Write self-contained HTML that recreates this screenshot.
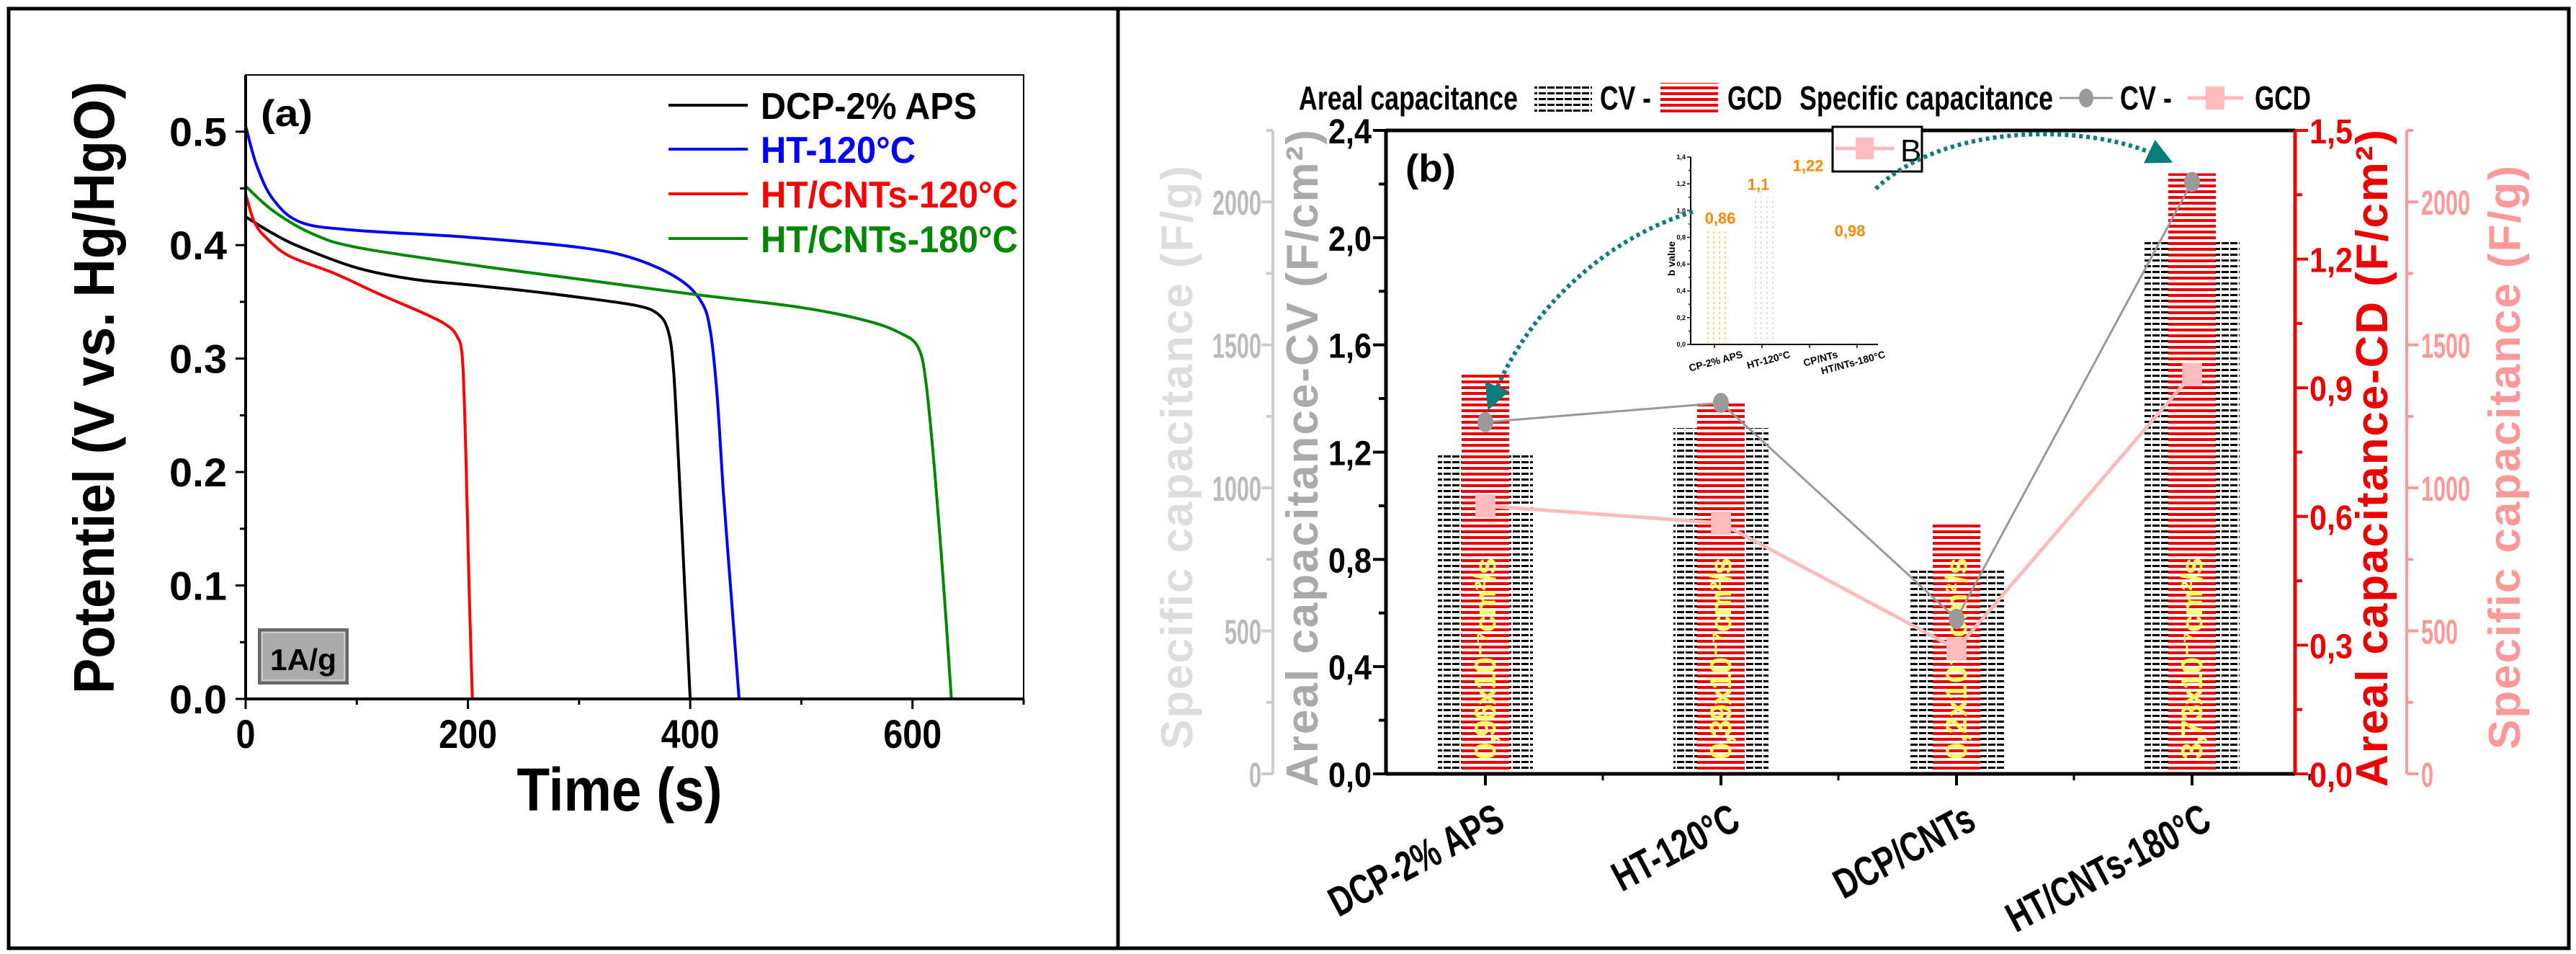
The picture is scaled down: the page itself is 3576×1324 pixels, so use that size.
<!DOCTYPE html>
<html><head><meta charset="utf-8"><style>
html,body{margin:0;padding:0;background:#fff}
svg{display:block}
text{font-family:"Liberation Sans Narrow","Liberation Sans",sans-serif;font-weight:bold}
</style></head><body>
<svg id="fig" width="3576" height="1324" viewBox="0 0 3576 1324" xmlns="http://www.w3.org/2000/svg">
<defs>
<pattern id="hatchK" width="12" height="8" patternUnits="userSpaceOnUse"><rect x="0" y="0" width="10" height="3" fill="#000"/></pattern>
<pattern id="hatchR" width="8" height="8" patternUnits="userSpaceOnUse"><rect x="0" y="0" width="8" height="4" fill="#e00"/></pattern>
<marker id="arr" viewBox="0 0 10 10" refX="5" refY="5" markerWidth="6" markerHeight="6" orient="auto"><path d="M0,0L10,5L0,10z" fill="#0a7c7c"/></marker>
</defs>
<rect x="12" y="12" width="3554" height="1304" fill="none" stroke="#000" stroke-width="5"/>
<line x1="1552" y1="12" x2="1552" y2="1316" stroke="#000" stroke-width="5"/>
<g id="A"></g>
<g id="B"></g>
</svg>
<script>
// ---------- Panel (a) data ----------
const seriesNames=["DCP-2% APS","HT-120°C","HT/CNTs-120°C","HT/CNTs-180°C"];
const seriesColors=["#000","#00f","#f00","#080"];
const tBlack=[0,25,50,100,150,200,250,300,350,370,380,385,390,395,400];
const vBlack=[0.425,0.41,0.398,0.38,0.37,0.365,0.36,0.354,0.347,0.34,0.325,0.29,0.20,0.10,0.0];
const tBlue=[0,10,25,50,100,200,300,350,390,410,418,424,430,437,444];
const vBlue=[0.505,0.47,0.44,0.42,0.413,0.407,0.398,0.388,0.37,0.35,0.325,0.27,0.18,0.09,0.0];
const tRed=[0,8,20,40,80,120,160,180,190,195,198,201,204];
const vRed=[0.445,0.42,0.405,0.39,0.375,0.357,0.34,0.33,0.32,0.30,0.22,0.10,0.0];
const tGreen=[0,25,60,100,200,300,400,500,560,590,605,612,620,628,635];
const vGreen=[0.452,0.43,0.41,0.398,0.383,0.37,0.357,0.345,0.333,0.322,0.31,0.28,0.20,0.10,0.0];
const xTicksA=[0,200,400,600];
const yTicksA=["0.0","0.1","0.2","0.3","0.4","0.5"];
// ---------- Panel (b) data ----------
const cats=["DCP-2% APS","HT-120°C","DCP/CNTs","HT/CNTs-180°C"];
const cvAreal=[1.19,1.29,0.77,1.99];
const gcdAreal=[0.933,0.868,0.585,1.40];
const cvSpecific=[1230,1297,542,2070];
const gcdSpecific=[937,877,437,1397];
const diffLabels=["0,96x10⁻⁷cm²/s","0,39x10⁻⁷cm²/s","0,2x10⁻⁷cm²/s","3,73x10⁻⁷cm²/s"];
const leftTicks=["0,0","0,4","0,8","1,2","1,6","2,0","2,4"];
const redTicks=["0,0","0,3","0,6","0,9","1,2","1,5"];
const specTicks=[0,500,1000,1500,2000];
const bValues=[0.86,1.1,1.22,0.98];
const bLabels=["0,86","1,1","1,22","0,98"];
const insetCats=["CP-2% APS","HT-120°C","CP/NTs","HT/NTs-180°C"];

const NS="http://www.w3.org/2000/svg";
function mk(tag,attrs,parent,txt){const e=document.createElementNS(NS,tag);for(const k in attrs)e.setAttribute(k,attrs[k]);if(txt!==undefined)e.textContent=txt;parent.appendChild(e);return e;}
function smooth(pts){let d='M'+pts[0][0].toFixed(1)+','+pts[0][1].toFixed(1);for(let i=0;i<pts.length-1;i++){const p0=pts[Math.max(0,i-1)],p1=pts[i],p2=pts[i+1],p3=pts[Math.min(pts.length-1,i+2)];const c1=[p1[0]+(p2[0]-p0[0])/6,p1[1]+(p2[1]-p0[1])/6],c2=[p2[0]-(p3[0]-p1[0])/6,p2[1]-(p3[1]-p1[1])/6];d+=` C${c1[0].toFixed(1)},${c1[1].toFixed(1)} ${c2[0].toFixed(1)},${c2[1].toFixed(1)} ${p2[0].toFixed(1)},${p2[1].toFixed(1)}`;}return d;}

// ===== Panel A =====
const A=document.getElementById('A');
const ax0=341,ax1=1421,ay0=970,ay1=104;
const xA=t=>ax0+t/700*(ax1-ax0);
const yA=v=>ay0-v/0.55*(ay0-ay1);
let r=mk('rect',{x:ax0,y:ay1,width:ax1-ax0,height:ay0-ay1,fill:'none',stroke:'#000','stroke-width':2},A);


const tsA=[tBlack,tBlue,tRed,tGreen],vsA=[vBlack,vBlue,vRed,vGreen];
tsA.forEach((ts,i)=>{
  const pts=ts.map((t,j)=>[xA(t),yA(vsA[i][j])]);
  const p=mk('path',{d:smooth(pts),fill:'none',stroke:seriesColors[i],'stroke-width':4,'stroke-linejoin':'round'},A);
  
  
});
mk('line',{x1:ax0,y1:ay0,x2:ax1,y2:ay0,stroke:'#000','stroke-width':4},A);
mk('line',{x1:ax0,y1:ay0,x2:ax0,y2:ay1,stroke:'#000','stroke-width':4},A);
for(let t=0;t<=700;t+=100){mk('line',{x1:xA(t),y1:ay0,x2:xA(t),y2:ay0+(t%200?8:14),stroke:'#000','stroke-width':3},A);}
xTicksA.forEach(t=>{const e=mk('text',{x:xA(t),y:ay0+68,'font-size':56,'text-anchor':'middle',textLength:String(t).length*27,lengthAdjust:'spacingAndGlyphs'},A,String(t));});
for(let k=0;k<=10;k++){const v=k*0.05;mk('line',{x1:ax0,y1:yA(v),x2:ax0-(k%2?8:14),y2:yA(v),stroke:'#000','stroke-width':3},A);}
yTicksA.forEach((s,i)=>{const e=mk('text',{x:ax0-26,y:yA(i*0.1)+20,'font-size':56,'text-anchor':'end',textLength:80,lengthAdjust:'spacingAndGlyphs'},A,s);});
let e=mk('text',{x:860,y:1125,'font-size':84,'text-anchor':'middle',textLength:285,lengthAdjust:'spacingAndGlyphs'},A,'Time (s)');

e=mk('text',{x:0,y:0,'font-size':80,'text-anchor':'middle',textLength:850,lengthAdjust:'spacingAndGlyphs',transform:'translate(158,538) rotate(-90)'},A,'Potentiel (V vs. Hg/HgO)');

e=mk('text',{x:362,y:175,'font-size':52,textLength:72,lengthAdjust:'spacingAndGlyphs'},A,'(a)');

const ly=[146,207,269,331];
const lw=[300,215,357,357];
seriesNames.forEach((n,i)=>{
  const g=mk('g',{},A);
  
  
  mk('line',{x1:928,y1:ly[i],x2:1038,y2:ly[i],stroke:seriesColors[i],'stroke-width':4},g);
  mk('text',{x:1056,y:ly[i]+19,'font-size':52,fill:seriesColors[i],textLength:lw[i],lengthAdjust:'spacingAndGlyphs'},g,n);
});
const ag=mk('g',{},A);


mk('rect',{x:360,y:874,width:122,height:74,fill:'#999',stroke:'#666','stroke-width':4},ag);
mk('rect',{x:364,y:878,width:114,height:66,fill:'#aaa',stroke:'#ccc','stroke-width':2},ag);
mk('text',{x:421,y:930,'font-size':42,'text-anchor':'middle',textLength:92,lengthAdjust:'spacingAndGlyphs'},ag,'1A/g');

// ===== Panel B =====
const B=document.getElementById('B');
const bx0=1924,bx1=3186,by0=1074,by1=181;
const cx=i=>2062+i*327;
const yCV=v=>by0-v/2.4*(by0-by1);
const yCD=v=>by0-v/1.5*(by0-by1);
const ySP=v=>by0-v/2250*(by0-by1);
cats.forEach((c,i)=>{
  const b=mk('rect',{x:cx(i)-66,y:yCV(cvAreal[i]),width:132,height:by0-yCV(cvAreal[i]),fill:'url(#hatchK)'},B);
  
  
  const rb=mk('rect',{x:cx(i)-33,y:yCD(gcdAreal[i]),width:66,height:by0-yCD(gcdAreal[i]),fill:'url(#hatchR)'},B);
  
  
  const t=mk('text',{x:0,y:0,'font-size':42,fill:'#ff6','text-anchor':'start',textLength:diffLabels[i].length>14?300:280,lengthAdjust:'spacing',transform:`translate(${cx(i)+14},${by0-20}) rotate(-90)`},B,diffLabels[i]);
  
  
});
let dcv=cvSpecific.map((v,i)=>(i?'L':'M')+cx(i)+','+ySP(v)).join(' ');
let l1=mk('path',{d:dcv,fill:'none',stroke:'#999','stroke-width':3},B);

let dgc=gcdSpecific.map((v,i)=>(i?'L':'M')+cx(i)+','+ySP(v)).join(' ');
let l2=mk('path',{d:dgc,fill:'none',stroke:'#fbb','stroke-width':5},B);

cvSpecific.forEach((v,i)=>{const c=mk('ellipse',{cx:cx(i),cy:ySP(v),rx:11,ry:14,fill:'#999'},B);});
gcdSpecific.forEach((v,i)=>{const c=mk('rect',{x:cx(i)-14,y:ySP(v)-16,width:28,height:32,fill:'#fbb'},B);});
mk('line',{x1:bx0,y1:by0,x2:bx1,y2:by0,stroke:'#000','stroke-width':5},B);
mk('line',{x1:bx0,y1:by0,x2:bx0,y2:by1,stroke:'#000','stroke-width':5},B);
mk('line',{x1:bx0,y1:by1,x2:bx1,y2:by1,stroke:'#000','stroke-width':5},B);
mk('line',{x1:bx1,y1:by0,x2:bx1,y2:by1,stroke:'#e00','stroke-width':5},B);
const pinkX=3341, grayX=1767;
mk('line',{x1:pinkX,y1:by0,x2:pinkX,y2:by1,stroke:'#f99','stroke-width':4},B);
mk('line',{x1:grayX,y1:by0,x2:grayX,y2:by1,stroke:'#ccc','stroke-width':4},B);
cats.forEach((c,i)=>{mk('line',{x1:cx(i),y1:by0,x2:cx(i),y2:by0+16,stroke:'#000','stroke-width':4},B);mk('line',{x1:cx(i)+163,y1:by0,x2:cx(i)+163,y2:by0+9,stroke:'#000','stroke-width':3},B);});
for(let k=0;k<=12;k++){const v=k*0.2;mk('line',{x1:bx0,y1:yCV(v),x2:bx0-(k%2?10:18),y2:yCV(v),stroke:'#000','stroke-width':4},B);}
leftTicks.forEach((s,i)=>{const t=mk('text',{x:bx0-20,y:yCV(i*0.4)+18,'font-size':48,'text-anchor':'end',textLength:60,lengthAdjust:'spacingAndGlyphs'},B,s);});
for(let k=0;k<=10;k++){const v=k*0.15;mk('line',{x1:bx1,y1:yCD(v),x2:bx1+(k%2?10:18),y2:yCD(v),stroke:'#e00','stroke-width':4},B);}
redTicks.forEach((s,i)=>{const t=mk('text',{x:bx1+20,y:yCD(i*0.3)+18,'font-size':48,fill:'#e00',textLength:60,lengthAdjust:'spacingAndGlyphs'},B,s);});
for(let k=0;k<=9;k++){const v=k*250;mk('line',{x1:pinkX,y1:ySP(v),x2:pinkX+(k%2?9:16),y2:ySP(v),stroke:'#f99','stroke-width':4},B);mk('line',{x1:grayX,y1:ySP(v),x2:grayX-(k%2?9:16),y2:ySP(v),stroke:'#ccc','stroke-width':4},B);}
specTicks.forEach(v=>{
  const L=String(v).length*17;
  let t=mk('text',{x:pinkX+20,y:ySP(v)+18,'font-size':48,fill:'#f99',textLength:L,lengthAdjust:'spacingAndGlyphs'},B,String(v));
  t=mk('text',{x:grayX-16,y:ySP(v)+18,'font-size':48,fill:'#bbb','text-anchor':'end',textLength:L,lengthAdjust:'spacingAndGlyphs'},B,String(v));
});
function vt(x,txt,col,name,y0,y1){const t=mk('text',{x:0,y:0,'font-size':62,fill:col,'textLength':y0-y1,'lengthAdjust':'spacing',transform:`translate(${x},${y0}) rotate(-90)`},B,txt);}
vt(1829,'Areal capacitance-CV (F/cm²)','#aaa','cv-axis-title',1092,180);
vt(1655,'Specific capacitance (F/g)','#ddd','specific-cv-axis-title',1040,230);
vt(3314,'Areal capacitance-CD (F/cm²)','#e00','cd-axis-title',1092,180);
vt(3498,'Specific capacitance (F/g)','#f99','specific-gcd-axis-title',1040,230);
const catW=[265,190,212,311];
cats.forEach((c,i)=>{const t=mk('text',{x:0,y:0,'font-size':58,'text-anchor':'end',textLength:catW[i],lengthAdjust:'spacingAndGlyphs',transform:`translate(${cx(i)+30},${by0+75}) rotate(-28)`},B,c);});
e=mk('text',{x:1951,y:252,'font-size':54,textLength:70,lengthAdjust:'spacingAndGlyphs'},B,'(b)');

const lg=mk('g',{},B);


function lt(x,s,w){mk('text',{x:x,y:152,'font-size':46,textLength:w,lengthAdjust:'spacingAndGlyphs'},lg,s);}
lt(1803,'Areal capacitance',304);
mk('rect',{x:2130,y:117,width:80,height:40,fill:'url(#hatchK)'},lg);
lt(2221,'CV -',71);
mk('rect',{x:2305,y:115,width:80,height:42,fill:'url(#hatchR)'},lg);
lt(2398,'GCD',76);
lt(2498,'Specific capacitance',352);
mk('line',{x1:2859,y1:136,x2:2933,y2:136,stroke:'#999','stroke-width':3},lg);
mk('ellipse',{cx:2896,cy:136,rx:10,ry:13,fill:'#999'},lg);
lt(2943,'CV -',72);
mk('line',{x1:3037,y1:136,x2:3114,y2:136,stroke:'#fbb','stroke-width':5},lg);
mk('rect',{x:3062,y:120,width:26,height:32,fill:'#fbb'},lg);
lt(3130,'GCD',78);
const bb=mk('g',{},B);


mk('rect',{x:2544,y:176,width:124,height:62,fill:'#fff',stroke:'#000','stroke-width':3},bb);
mk('line',{x1:2548,y1:206,x2:2630,y2:206,stroke:'#fbb','stroke-width':5},bb);
mk('rect',{x:2576,y:191,width:25,height:30,fill:'#fbb'},bb);
mk('text',{x:2638,y:224,'font-size':44,'style':'font-weight:normal;font-family:Liberation Sans,sans-serif'},bb,'B');
const ig=mk('g',{},B);


const ix0=2347,ix1=2607,iy0=478,iy1=218;
const yI=v=>iy0-v/1.4*(iy0-iy1);
const xI=i=>ix0+33+i*66;
mk('line',{x1:ix0,y1:iy0,x2:ix1,y2:iy0,stroke:'#000','stroke-width':2},ig);
mk('line',{x1:ix0,y1:iy0,x2:ix0,y2:iy1,stroke:'#000','stroke-width':2},ig);
for(let k=0;k<=14;k++){mk('line',{x1:ix0,y1:yI(k*0.1),x2:ix0-(k%2?3:5),y2:yI(k*0.1),stroke:'#000','stroke-width':1.5},ig);if(k%2==0)mk('text',{x:ix0-7,y:yI(k*0.1)+3,'font-size':9,'text-anchor':'end','font-weight':'normal'},ig,(k/10).toFixed(1).replace('.',','));}
mk('text',{x:0,y:0,'font-size':14,transform:`translate(${ix0-22},${(iy0+iy1)/2+35}) rotate(-90)`},ig,'b value');
insetCats.forEach((c,i)=>{mk('line',{x1:xI(i),y1:iy0,x2:xI(i),y2:iy0+5,stroke:'#000','stroke-width':1.5},ig);mk('text',{x:0,y:0,'font-size':14,'font-weight':'normal','text-anchor':'end',transform:`translate(${xI(i)+40},${iy0+18}) rotate(-15)`},ig,c);});
[0,1].forEach(i=>{for(let s=0;s<4;s++){mk('line',{x1:xI(i)-9+s*8,y1:iy0,x2:xI(i)-9+s*8,y2:yI(bValues[i]),stroke:i?'#bbb':'#f90','stroke-width':1,'stroke-dasharray':'3,4'},ig);}});
bValues.forEach((v,i)=>{mk('text',{x:xI(i)+[8,-5,-2,-10][i],y:yI(v)-[8,10,0,0][i]+[0,0,-14,32][i],'font-size':22,fill:'#f80','text-anchor':'middle'},ig,bLabels[i]);});
let a1=mk('path',{d:'M2350,294 C2230,330 2120,430 2072,553',fill:'none',stroke:'#0a7c7c','stroke-width':6,'stroke-dasharray':'5,5','marker-end':'url(#arr)'},B);

let a2=mk('path',{d:'M2604,262 C2700,170 2900,170 3000,218',fill:'none',stroke:'#0a7c7c','stroke-width':6,'stroke-dasharray':'5,5','marker-end':'url(#arr)'},B);

</script>
</body></html>
